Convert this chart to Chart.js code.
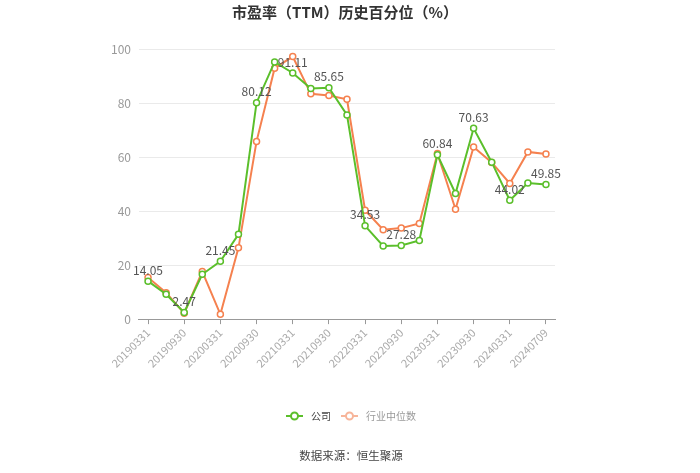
<!DOCTYPE html>
<html>
<head>
<meta charset="utf-8">
<script src="https://cdn.jsdelivr.net/npm/chart.js@4/dist/chart.umd.min.js"></script>
<style>
  html, body { margin: 0; padding: 0; background: #fff; }
  #wrap { width: 700px; height: 473px; position: relative; }
</style>
</head>
<body>
<div id="wrap"><canvas id="chart"></canvas></div>
<script>
const dates = ['20190331', '20190630', '20190930', '20191231', '20200331', '20200630', '20200930', '20201231',
  '20210331', '20210630', '20210930', '20211231', '20220331', '20220630', '20220930', '20221231',
  '20230331', '20230630', '20230930', '20231231', '20240331', '20240630', '20240709'];
const companyValues = [14.05, 9.2, 2.47, 16.6, 21.45, 31.4, 80.12, 95.2, 91.11, 85.4, 85.65, 75.6,
  34.53, 27.1, 27.28, 29.1, 60.84, 46.5, 70.63, 58.1, 44.02, 50.4, 49.85];
const industryValues = [15.4, 9.8, 2.2, 17.6, 1.8, 26.4, 65.8, 92.9, 97.2, 83.4, 82.8, 81.4,
  40.3, 33.1, 33.7, 35.4, 61.3, 40.7, 63.7, 58.0, 50.2, 61.9, 61.1];
const labelledPoints = [0, 2, 4, 6, 8, 10, 12, 14, 16, 18, 20, 22];
const yTicks = [0, 20, 40, 60, 80, 100];

const FONT = '"Noto Sans CJK SC", "Noto Sans", sans-serif';
const GREEN = '#5bbf2b';
const ORANGE = '#f5814f';

// value labels above the company line
const valueLabels = {
  id: 'valueLabels',
  afterDatasetsDraw(chart) {
    const ctx = chart.ctx;
    const meta = chart.getDatasetMeta(0);
    ctx.save();
    ctx.font = '12px ' + FONT;
    ctx.fillStyle = '#555';
    ctx.textAlign = 'center';
    ctx.textBaseline = 'bottom';
    labelledPoints.forEach(i => {
      const p = meta.data[i];
      ctx.fillText(companyValues[i].toFixed(2), p.x, p.y - 5);
    });
    ctx.restore();
  }
};

// title, legend (line + hollow circle) and source note
const decorations = {
  id: 'decorations',
  afterDraw(chart) {
    const ctx = chart.ctx;
    ctx.save();
    ctx.font = 'bold 15px ' + FONT;
    ctx.fillStyle = '#333';
    ctx.textAlign = 'center';
    ctx.textBaseline = 'middle';
    ctx.fillText('市盈率（TTM）历史百分位（%）', 345, 12);

    const items = [
      { text: '公司', color: GREEN, textColor: '#444' },
      { text: '行业中位数', color: '#f7b59a', textColor: '#999' }
    ];
    ctx.font = '10px ' + FONT;
    const gap = 10, icon = 17, pad = 8;
    let x = 286;
    const y = 416;
    items.forEach(it => {
      ctx.strokeStyle = it.color;
      ctx.lineWidth = 2;
      ctx.beginPath();
      ctx.moveTo(x, y);
      ctx.lineTo(x + icon, y);
      ctx.stroke();
      ctx.beginPath();
      ctx.arc(x + icon / 2, y, 3.5, 0, Math.PI * 2);
      ctx.fillStyle = '#fff';
      ctx.fill();
      ctx.stroke();
      ctx.fillStyle = it.textColor;
      ctx.textAlign = 'left';
      ctx.fillText(it.text, x + icon + pad, y);
      x += icon + pad + ctx.measureText(it.text).width + gap;
    });

    ctx.font = '11.5px ' + FONT;
    ctx.fillStyle = '#444';
    ctx.textAlign = 'center';
    ctx.fillText('数据来源：恒生聚源', 351, 456);
    ctx.restore();
  }
};

new Chart(document.getElementById('chart'), {
  type: 'line',
  data: {
    labels: dates,
    datasets: [{
      label: '公司',
      data: companyValues,
      borderColor: GREEN,
      backgroundColor: '#fff',
      borderWidth: 2,
      pointRadius: 3,
      pointBorderWidth: 1.5,
      pointBackgroundColor: '#fff',
      tension: 0
    }, {
      label: '行业中位数',
      data: industryValues,
      borderColor: ORANGE,
      backgroundColor: '#fff',
      borderWidth: 2,
      pointRadius: 3,
      pointBorderWidth: 1.5,
      pointBackgroundColor: '#fff',
      tension: 0
    }]
  },
  options: {
    responsive: true,
    maintainAspectRatio: false,
    animation: false,
    layout: { padding: { left: 103, right: 145, top: 49, bottom: 101 } },
    plugins: {
      legend: { display: false },
      tooltip: { enabled: false },
      title: { display: false }
    },
    scales: {
      x: {
        offset: true,
        grid: {
          offset: false,
          drawOnChartArea: false,
          drawTicks: true,
          tickLength: 5,
          tickColor: c => (c.index % 2 === 0 ? '#999' : 'rgba(0,0,0,0)')
        },
        border: { display: true, color: '#999' },
        ticks: {
          autoSkip: false,
          maxRotation: 45,
          minRotation: 45,
          color: '#aaa',
          font: { family: FONT, size: 11 },
          padding: 2,
          callback: (v, i) => (i % 2 === 0 ? dates[i] : '')
        }
      },
      y: {
        min: 0,
        max: 100,
        afterBuildTicks: axis => { axis.ticks = yTicks.map(v => ({ value: v })); },
        grid: { color: '#eaeaea', drawTicks: false },
        border: { display: false },
        ticks: {
          color: '#999',
          font: { family: FONT, size: 12 },
          padding: 8
        }
      }
    }
  },
  plugins: [valueLabels, decorations]
});
</script>
</body>
</html>
